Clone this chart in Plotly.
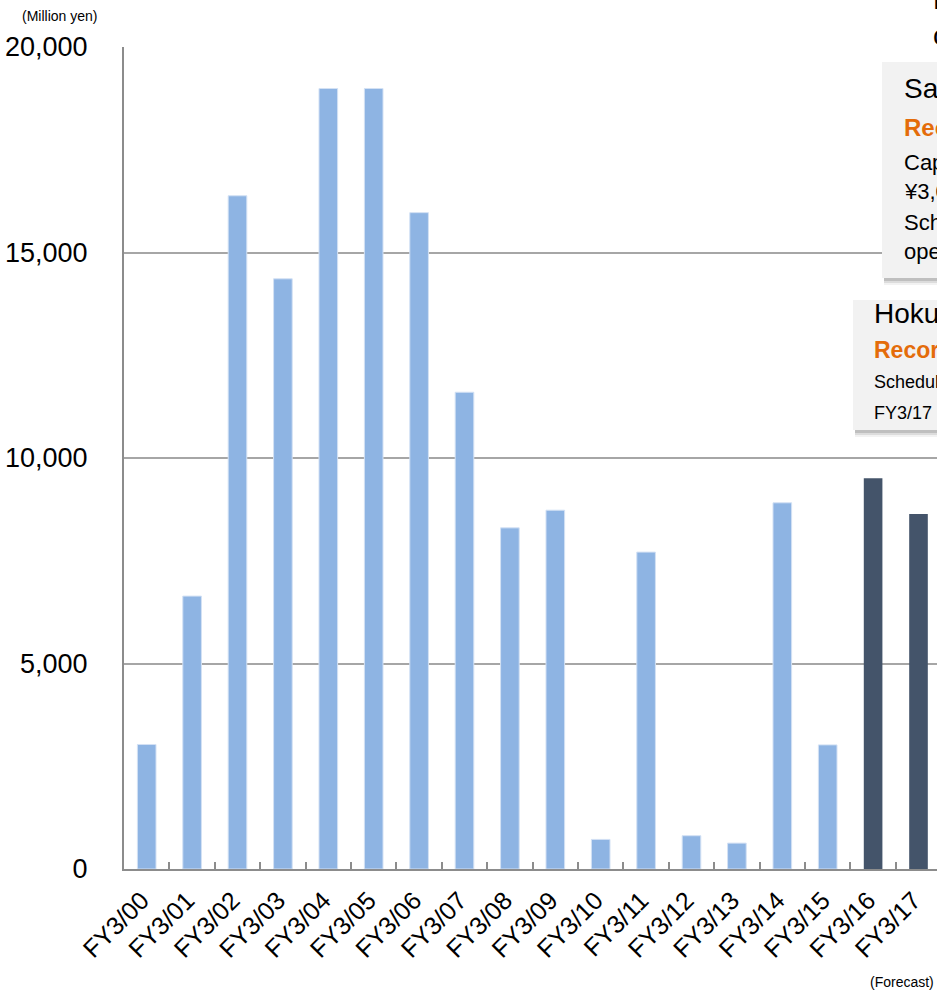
import plotly.graph_objects as go

categories = ["FY3/00", "FY3/01", "FY3/02", "FY3/03", "FY3/04", "FY3/05", "FY3/06",
              "FY3/07", "FY3/08", "FY3/09", "FY3/10", "FY3/11", "FY3/12", "FY3/13",
              "FY3/14", "FY3/15", "FY3/16", "FY3/17"]
values = [3030, 6640, 16380, 14360, 18990, 18990, 15970, 11600, 8300, 8730,
          720, 7710, 810, 630, 8910, 3020, 9510, 8640]
is_dark = [False] * 16 + [True, True]

y_ticks = [0, 5000, 10000, 15000, 20000]
y_tick_labels = ["0", "5,000", "10,000", "15,000", "20,000"]

LIGHT = "#8EB4E3"
DARK = "#44546A"
ORANGE = "#E46C0A"
AXIS = "#8C8C8C"
FONT = "Liberation Sans, Arial, sans-serif"
NARROW = "Liberation Sans Narrow, Arial Narrow, Liberation Sans, sans-serif"

W, H = 937, 991
L, R, T, B = 124, 0, 47, 122
PW, PH = W - L - R, H - T - B


def px(x):
    return (x - L) / PW


def py(y):
    return (H - B - y) / PH


fig = go.Figure()
fig.add_trace(go.Bar(
    x=categories,
    y=values,
    marker=dict(
        color=[DARK if d else LIGHT for d in is_dark],
        line=dict(color=["rgba(0,0,0,0)" if d else "#D3E1F4" for d in is_dark], width=1),
    ),
    width=0.41,
    showlegend=False,
))

shapes = []
# annotation boxes (with soft shadows)
boxes = [(882, 62, 278), (853, 300, 430)]
for (x0, y0, y1) in boxes:
    for k, op in [(7, 0.05), (5, 0.09), (3, 0.13)]:
        shapes.append(dict(type="rect", xref="paper", yref="paper", layer="above",
                           x0=px(x0 + 2), x1=1.2, y0=py(y1 + k), y1=py(y0 + k),
                           fillcolor=f"rgba(0,0,0,{op})", line=dict(width=0)))
    shapes.append(dict(type="rect", xref="paper", yref="paper", layer="above",
                       x0=px(x0), x1=1.2, y0=py(y1), y1=py(y0),
                       fillcolor="#F2F2F2", line=dict(width=0)))

annotations = []


def note(text, x, y, size, color="black", bold=False, family=FONT):
    annotations.append(dict(
        text=f"<b>{text}</b>" if bold else text,
        xref="paper", yref="paper", x=px(x), y=py(y),
        xanchor="left", yanchor="middle", showarrow=False,
        font=dict(size=size, color=color, family=family),
    ))


# box 1
note("Sakai Plant", 902, 88, 28)
note("Record investment", 902, 127, 24, ORANGE, bold=True)
note("Capital investment of", 902, 162, 22)
note("¥3,000 million", 902, 192, 22)
note("Scheduled to begin", 902, 222, 22)
note("operation in FY3/17", 902, 251, 22)
# box 2
note("Hokuriku Plant", 872, 313, 28)
note("Record investment", 872, 350, 23, ORANGE, bold=True)
note("Scheduled for completion in", 872, 382, 18)
note("FY3/17", 872, 413, 18)
# top-right partial title
note("Plans for", 931, 0, 28)
note("capital investment", 931, 35, 28)

# unit & forecast labels
annotations.append(dict(text="(Million yen)", xref="paper", yref="paper",
                        x=px(59), y=py(16), xanchor="center", yanchor="middle",
                        showarrow=False, font=dict(size=14, family=NARROW, color="black")))
annotations.append(dict(text="(Forecast)", xref="paper", yref="paper",
                        x=px(902), y=py(982), xanchor="center", yanchor="middle",
                        showarrow=False, font=dict(size=14, family=NARROW, color="black")))

fig.update_layout(
    width=W, height=H,
    margin=dict(l=L, r=R, t=T, b=B, pad=0),
    paper_bgcolor="white", plot_bgcolor="white",
    font=dict(family=FONT, color="black"),
    shapes=shapes,
    annotations=annotations,
    bargap=0.59,
)
fig.update_xaxes(
    type="category",
    range=[-0.5, -0.5 + PW / 45.4],
    showline=True, linecolor=AXIS, linewidth=2,
    ticks="inside", tickson="boundaries", ticklen=7, tickwidth=2, tickcolor=AXIS,
    tickmode="array", tickvals=categories, ticktext=[c + "\u00a0" for c in categories],
    tickangle=-45, tickfont=dict(size=25, family=FONT, color="black"),
    ticklabelstandoff=0,
    showgrid=False, zeroline=False,
)
fig.update_yaxes(
    range=[0, 20000],
    tickmode="array", tickvals=y_ticks, ticktext=y_tick_labels,
    showline=True, linecolor=AXIS, linewidth=2,
    showgrid=True, gridcolor="#A6A6A6", gridwidth=2,
    zeroline=False, ticks="", ticklabelstandoff=29,
    tickfont=dict(size=27, family=FONT, color="black"),
)

fig.write_html("out.html")
